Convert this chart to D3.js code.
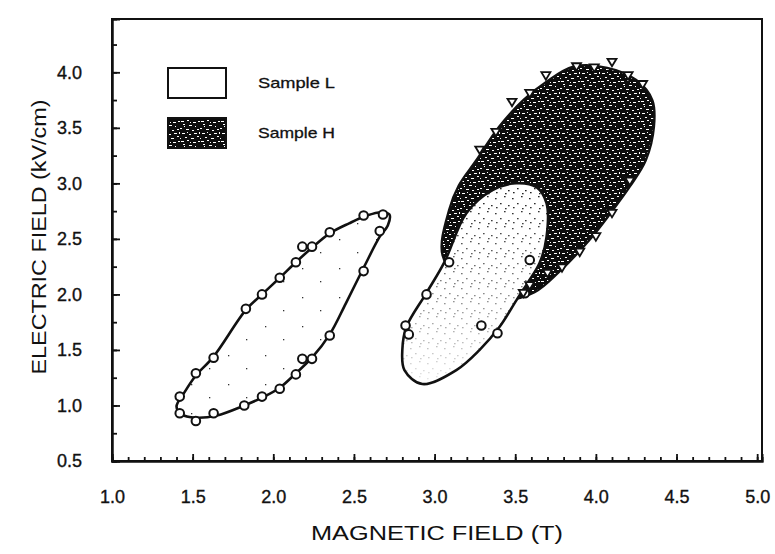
<!DOCTYPE html>
<html><head><meta charset="utf-8">
<script src="https://cdnjs.cloudflare.com/ajax/libs/d3/7.8.5/d3.min.js"></script>
<style>
body{margin:0;background:#fff;}
svg{display:block;}
text{font-family:"Liberation Sans",Arial,sans-serif;fill:#111;}
</style></head>
<body>
<svg id="chart" width="775" height="554"></svg>
<script>
// ---------- DATA ----------
const xTickValues = [1.0,1.5,2.0,2.5,3.0,3.5,4.0,4.5,5.0];
const xTickLabels = ["1.0","1.5","2.0","2.5","3.0","3.5","4.0","4.5","5.0"];
const yTickValues = [0.5,1.0,1.5,2.0,2.5,3.0,3.5,4.0];
const yTickLabels = ["0.5","1.0","1.5","2.0","2.5","3.0","3.5","4.0"];
const xTitle = "MAGNETIC  FIELD  (T)";
const yTitle = "ELECTRIC  FIELD  (kV/cm)";
const legendLabels = ["Sample  L","Sample  H"];

// Sample L, low-field loop : outline (B in T, E in kV/cm)
const loopL1_B = [1.40,1.45,1.52,1.63,1.83,1.93,2.04,2.14,2.24,2.35,2.47,2.58,2.67,2.72,2.71,2.66,2.56,2.45,2.35,2.24,2.14,2.04,1.93,1.82,1.65,1.52,1.43];
const loopL1_E = [0.99,1.12,1.27,1.44,1.86,2.00,2.15,2.29,2.42,2.55,2.64,2.71,2.74,2.72,2.62,2.52,2.24,1.92,1.64,1.43,1.29,1.16,1.07,1.00,0.91,0.89,0.92];
// Sample L, low-field loop : measured points (circles)
const ptsL1_B = [1.42,1.52,1.63,1.83,1.93,2.04,2.14,2.18,2.24,2.35,2.56,2.68, 1.42,1.52,1.63,1.82,1.93,2.04,2.14,2.18,2.24,2.35,2.56,2.66];
const ptsL1_E = [1.08,1.29,1.43,1.87,2.00,2.15,2.29,2.43,2.43,2.56,2.71,2.72, 0.93,0.86,0.93,1.00,1.08,1.15,1.28,1.42,1.42,1.63,2.21,2.57];

// Sample L, high-field loop : outline
const loopL2_B = [2.924,2.813,2.800,2.825,2.949,3.061,3.197,3.359,3.508,3.632,3.694,3.694,3.651,3.576,3.508,3.402,3.278,3.135];
const loopL2_E = [1.193,1.319,1.499,1.706,2.012,2.291,2.732,2.939,3.002,2.966,2.822,2.516,2.282,2.102,1.949,1.706,1.499,1.319];
// Sample L, high-field loop : measured points
const ptsL2_B = [3.09,3.59,2.95,3.56,2.82,2.84,3.29,3.39];
const ptsL2_E = [2.29,2.31,2.00,2.01,1.72,1.64,1.72,1.65];

// Sample H loop : outline
const loopH_B = [3.05,3.09,3.15,3.26,3.40,3.55,3.69,3.86,4.07,4.25,4.35,4.36,4.31,4.21,4.09,3.96,3.77,3.62,3.43,3.22];
const loopH_E = [2.35,2.76,2.98,3.21,3.51,3.75,3.91,4.05,4.04,3.93,3.75,3.51,3.21,2.97,2.73,2.49,2.20,2.02,1.95,2.04];
// Sample H : measured points (triangles)
const ptsH_B = [4.10,3.88,3.99,3.69,4.20,4.29,3.59,3.48,3.38,3.28,4.21,4.10,4.00,3.90,3.79,3.70,3.59,3.55];
const ptsH_E = [4.09,4.05,4.04,3.97,3.97,3.89,3.81,3.73,3.46,3.30,3.02,2.73,2.52,2.38,2.24,2.19,2.08,2.01];

// ---------- CHART ----------
const svg = d3.select("#chart");
const x = d3.scaleLinear().domain([1, 5.03]).range([112, 762]);
const y = d3.scaleLinear().domain([0.5, 4.48]).range([461, 19]);

const defs = svg.append("defs");
// dark speckle pattern (Sample H)
const dp = defs.append("pattern").attr("id","darkPat").attr("patternUnits","userSpaceOnUse")
  .attr("width",20).attr("height",20);
dp.append("rect").attr("width",20).attr("height",20).attr("fill","#0d0d0d");
[[1,1,3,1],[7,0,2,1],[13,2,3,1],[18,1,2,1],[3,4,2,1],[9,5,3,1],[15,6,1,1],[0,8,2,1],[6,9,3,1],[12,10,2,1],[17,9,2,1],
 [2,13,3,1],[9,14,2,1],[14,13,3,1],[5,17,2,1],[11,18,3,1],[17,16,2,1],[0,18,1,1],[7,12,1,1],[19,12,1,2],[4,6,1,1],[10,2,1,1]]
  .forEach(r=>dp.append("rect").attr("x",r[0]).attr("y",r[1]).attr("width",r[2]).attr("height",r[3]).attr("fill","#fff"));
// light stipple pattern
const lp = defs.append("pattern").attr("id","lightPat").attr("patternUnits","userSpaceOnUse")
  .attr("width",17).attr("height",15);
[[2,3],[11,1],[7,8],[15,10],[3,12],[12,13]].forEach(p=>lp.append("rect").attr("x",p[0]).attr("y",p[1]).attr("width",1.6).attr("height",1.3).attr("fill","#222"));
// sparse pattern
const sp = defs.append("pattern").attr("id","sparsePat").attr("patternUnits","userSpaceOnUse")
  .attr("width",37).attr("height",29);
[[6,7],[24,20]].forEach(p=>sp.append("rect").attr("x",p[0]).attr("y",p[1]).attr("width",1.3).attr("height",1.3).attr("fill","#333"));
// fade mask for the stipple in high-field L loop
const lg = defs.append("linearGradient").attr("id","fade").attr("gradientUnits","userSpaceOnUse")
  .attr("x1",0).attr("x2",0).attr("y1",y(2.9)).attr("y2",y(1.2));
lg.append("stop").attr("offset",0).attr("stop-color","#fff").attr("stop-opacity",1);
lg.append("stop").attr("offset",1).attr("stop-color","#fff").attr("stop-opacity",0.1);
defs.append("mask").attr("id","fadeMask").attr("maskUnits","userSpaceOnUse")
  .attr("x",0).attr("y",0).attr("width",775).attr("height",554)
  .append("rect").attr("width",775).attr("height",554).attr("fill","url(#fade)");

const line = d3.line().x(d=>x(d[0])).y(d=>y(d[1])).curve(d3.curveCatmullRomClosed.alpha(0.5));
const zip = (a,b)=>a.map((v,i)=>[v,b[i]]);

// Sample H loop
const hPts = zip(loopH_B, loopH_E);
svg.append("path").attr("d",line(hPts)).attr("fill","url(#darkPat)").attr("stroke","#111").attr("stroke-width",2.4);

// Sample L high-field loop
const l2 = zip(loopL2_B, loopL2_E);
svg.append("path").attr("d",line(l2)).attr("fill","#fff");
svg.append("path").attr("d",line(l2)).attr("fill","url(#lightPat)").attr("mask","url(#fadeMask)");
svg.append("path").attr("d",line(l2)).attr("fill","none").attr("stroke","#111").attr("stroke-width",2.6);

// Sample L low-field loop
const l1 = zip(loopL1_B, loopL1_E);
svg.append("path").attr("d",line(l1)).attr("fill","url(#sparsePat)").attr("stroke","#111").attr("stroke-width",2.6);

// markers
svg.append("g").selectAll("circle").data(zip(ptsL1_B.concat(ptsL2_B), ptsL1_E.concat(ptsL2_E))).join("circle")
  .attr("cx",d=>x(d[0])).attr("cy",d=>y(d[1])).attr("r",4.3)
  .attr("fill","#fff").attr("stroke","#111").attr("stroke-width",2);
svg.append("g").selectAll("path").data(zip(ptsH_B, ptsH_E)).join("path")
  .attr("d",d=>{const cx=x(d[0]), cy=y(d[1]); return `M${cx-4.5},${cy-3.5}L${cx+4.5},${cy-3.5}L${cx},${cy+4}Z`;})
  .attr("fill","#fff").attr("stroke","#111").attr("stroke-width",1.8);

// frame
svg.append("rect").attr("x",x(1)).attr("y",y(4.48)).attr("width",x(5.03)-x(1)).attr("height",y(0.5)-y(4.48))
  .attr("fill","none").attr("stroke","#111").attr("stroke-width",2);

// axes
const fmtX = d=>xTickLabels[xTickValues.indexOf(d)];
const fmtY = d=>yTickLabels[yTickValues.indexOf(d)];
const xMinor = d3.range(10,51).map(v=>v/10);
const yMinor = d3.range(2,18).map(v=>v/4);
const gxm = svg.append("g").attr("transform",`translate(0,${y(0.5)})`)
  .call(d3.axisBottom(x).tickValues(xMinor).tickSize(-4).tickFormat(""));
const gx = svg.append("g").attr("transform",`translate(0,${y(0.5)})`)
  .call(d3.axisBottom(x).tickValues(xTickValues).tickSize(-7).tickPadding(29).tickFormat(fmtX));
const gym = svg.append("g").attr("transform",`translate(${x(1)},0)`)
  .call(d3.axisLeft(y).tickValues(yMinor).tickSize(-5).tickFormat(""));
const gy = svg.append("g").attr("transform",`translate(${x(1)},0)`)
  .call(d3.axisLeft(y).tickValues(yTickValues).tickSize(-8).tickPadding(30).tickFormat(fmtY));
[gx,gxm,gy,gym].forEach(g=>{
  g.select(".domain").attr("stroke","#111").attr("stroke-width",2);
  g.selectAll(".tick line").attr("stroke","#111").attr("stroke-width",1.8);
  g.selectAll(".tick text").attr("font-size",18).attr("fill","#111").attr("stroke","#111").attr("stroke-width",0.35)
    .style("font-family","Liberation Sans, Arial, sans-serif");
});

// axis titles
svg.append("text").attr("x",437).attr("y",540).attr("text-anchor","middle").attr("font-size",20)
  .attr("fill","#111").attr("textLength",252).attr("lengthAdjust","spacingAndGlyphs").text(xTitle);
svg.append("text").attr("transform","translate(46,237) rotate(-90)").attr("text-anchor","middle").attr("font-size",20)
  .attr("fill","#111").attr("textLength",275).attr("lengthAdjust","spacingAndGlyphs").text(yTitle);

// legend
const legFills = ["#fff","url(#darkPat)"];
const legY = [68,118];
legendLabels.forEach((lab,i)=>{
  svg.append("rect").attr("x",168).attr("y",legY[i]).attr("width",58).attr("height",30)
    .attr("fill",legFills[i]).attr("stroke","#111").attr("stroke-width",2);
  svg.append("text").attr("x",258).attr("y",legY[i]+20).attr("font-size",15).attr("stroke","#111").attr("stroke-width",0.3)
    .attr("textLength",77).attr("lengthAdjust","spacingAndGlyphs").text(lab);
});
</script>
</body></html>
